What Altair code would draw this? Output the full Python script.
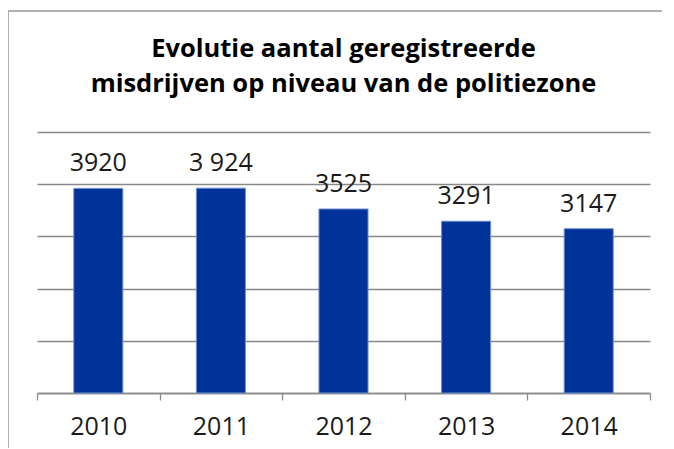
import altair as alt
import pandas as pd

years = ["2010", "2011", "2012", "2013", "2014"]
values = [3920, 3924, 3525, 3291, 3147]
labels = ["3920", "3 924", "3525", "3291", "3147"]
title_lines = ["Evolutie aantal geregistreerde", "misdrijven op niveau van de politiezone"]

df = pd.DataFrame({"year": years, "value": values, "label": labels})

FONT = "Open Sans"
x_enc = alt.X("year:N", sort=years, title=None,
              scale=alt.Scale(paddingInner=0, paddingOuter=0),
              axis=alt.Axis(labelAngle=0, tickBand="extent", tickSize=7,
                            tickColor="#888888", domainColor="#888888",
                            tickWidth=1.3, domainWidth=1.3,
                            labelFontSize=25, labelFont=FONT, labelColor="#1a1a1a",
                            labelPadding=14, grid=False))
y_enc = alt.Y("value:Q", title=None,
              scale=alt.Scale(domain=[0, 5000], nice=False),
              axis=alt.Axis(values=[0, 1000, 2000, 3000, 4000, 5000], labels=False,
                            ticks=False, domain=False, grid=True,
                            gridColor="#888888", gridWidth=1.3))

base = alt.Chart(df)
bars = base.mark_bar(width=alt.RelativeBandSize(0.4), color="#003399",
                     stroke="#6f8fd0", strokeWidth=1).encode(x=x_enc, y=y_enc)
text = base.mark_text(dy=-17, baseline="alphabetic", fontSize=25, font=FONT,
                      color="#1a1a1a").encode(x=alt.X("year:N", sort=years), y="value:Q",
                                              text="label:N")

frame = alt.Chart(alt.Data(values=[{}])).mark_rect(
    fill=None, stroke="#999999", strokeWidth=1.5
).encode(x=alt.value(-29), x2=alt.value(720), y=alt.value(-121), y2=alt.value(520))

chart = alt.layer(frame, bars, text).properties(
    width=613, height=261,
    autosize=alt.AutoSizeParams(type="none"),
    padding={"left": 29, "top": 124, "right": 12, "bottom": 55},
    title=alt.TitleParams(text=title_lines, fontSize=25.5, font="Open Sans", fontWeight="bold",
                          color="#000000", lineHeight=35, anchor="middle", offset=-87),
).configure_view(stroke=None)

chart.save("out.html", embed_options={"renderer": "svg", "actions": False})
